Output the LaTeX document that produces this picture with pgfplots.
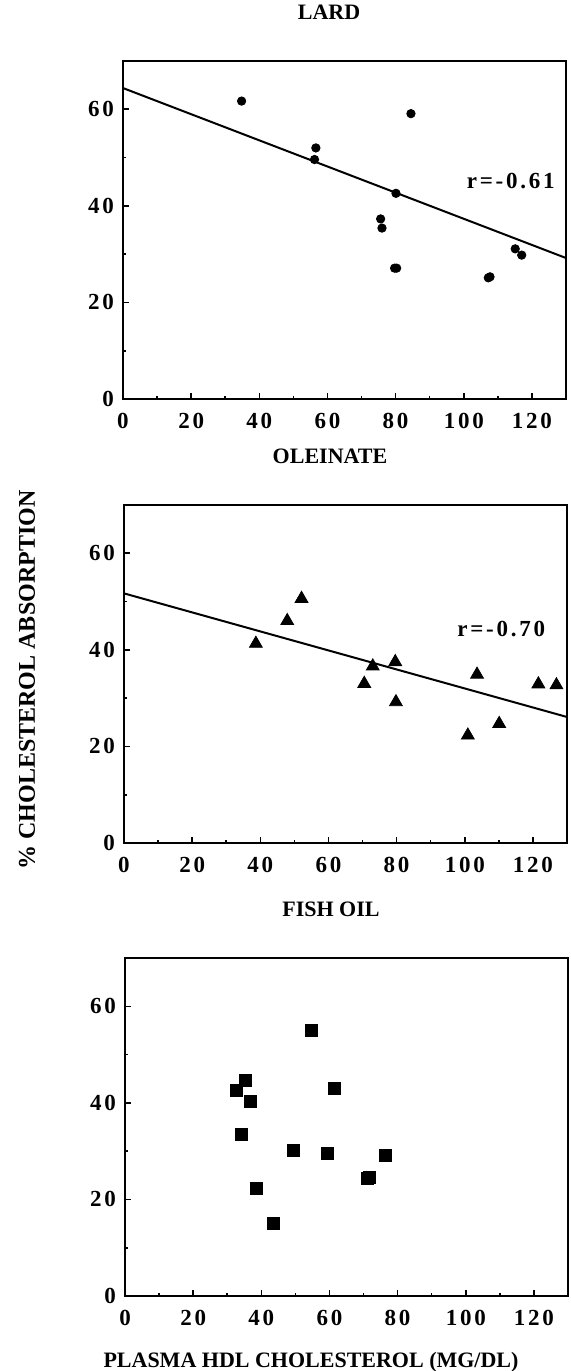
\documentclass[border=0pt]{standalone}
\usepackage{fontspec}
\setmainfont{Liberation Serif}
\newfontfamily\spaced[LetterSpace=12]{Liberation Serif}
\usepackage{pgfplots}
\pgfplotsset{compat=1.18}
\pgfplotsset{
 panel/.style={
  width=221.5pt, height=169pt, scale only axis,
  xmin=0, xmax=130, ymin=0, ymax=70,
  xtick={0,20,...,120}, ytick={0,20,40,60},
  minor x tick num=1, minor y tick num=1,
  tick pos=left, tick align=inside,
  major tick length=2.8pt, minor tick length=1.6pt,
  every tick/.style={line width=0.8pt, black},
  axis line style={line width=1pt},
  /pgf/number format/assume math mode=true,
  ticklabel style={font=\spaced\bfseries\fontsize{11.5}{13}\selectfont},
  xticklabel style={yshift=-3.5pt},
  yticklabel style={xshift=-1pt},
  title style={at={(0.465,1)}, anchor=base, yshift=14.75pt, font=\bfseries\fontsize{11}{13}\selectfont},
  anchor=south west,
 },
}
\tikzset{rlab/.style={font=\spaced\bfseries\fontsize{11.5}{13}\selectfont}}
\begin{document}
\begin{tikzpicture}
\path[use as bounding box] (0,0) rectangle (285pt,-685.5pt);
% LARD
\begin{axis}[panel, at={(61.5pt,-199.5pt)}, title={LARD}]
\addplot[only marks, mark=*, mark size=2.1pt, mark options={fill=black, draw=black}] coordinates {
 (34.8,61.7) (56.6,52.0) (56.2,49.6) (84.5,59.1) (80.1,42.6)
 (75.6,37.3) (76.0,35.4) (79.7,27.1) (80.3,27.1)
 (107.2,25.1) (107.7,25.3) (115.1,31.1) (117.0,29.8)
};
\addplot[no marks, line width=1pt] coordinates {(0,64.4) (130,29.2)};
\node[rlab] at (axis cs:113.8,45.1) {r=-0.61};
\end{axis}
% OLEINATE
\begin{axis}[panel, at={(62pt,-421.5pt)}, title={OLEINATE}]
\addplot[only marks, mark=triangle*, mark size=3.7pt, mark options={fill=black, draw=black}] coordinates {
 (38.7,41.3) (47.9,46.0) (52.1,50.6) (70.5,33.0) (73.0,36.6)
 (79.6,37.5) (79.8,29.2) (100.9,22.3) (103.6,34.9) (110.1,24.7)
 (121.6,32.9) (126.9,32.7)
};
\addplot[no marks, line width=1pt] coordinates {(0,51.7) (130,26.1)};
\node[rlab] at (axis cs:110.7,44.4) {r=-0.70};
\end{axis}
% FISH OIL
\begin{axis}[panel, at={(62.5pt,-648pt)}, title={FISH OIL}]
\addplot[only marks, mark=square*, mark size=3pt, mark options={fill=black, draw=black}] coordinates {
 (32.8,42.6) (35.2,44.7) (36.7,40.3) (34.3,33.5) (38.7,22.2)
 (43.5,15.0) (49.4,30.2) (54.7,55.0) (59.5,29.5) (61.4,43.1)
 (71.0,24.3) (71.6,24.5) (76.3,29.2)
};
\end{axis}
\node[rotate=90, font=\bfseries\fontsize{12}{14}\selectfont] at (13.5pt,-340pt) {\% CHOLESTEROL ABSORPTION};
\node[anchor=base, font=\bfseries\fontsize{11}{13}\selectfont] at (155.5pt,-683.5pt) {PLASMA HDL CHOLESTEROL (MG/DL)};
\end{tikzpicture}
\end{document}
